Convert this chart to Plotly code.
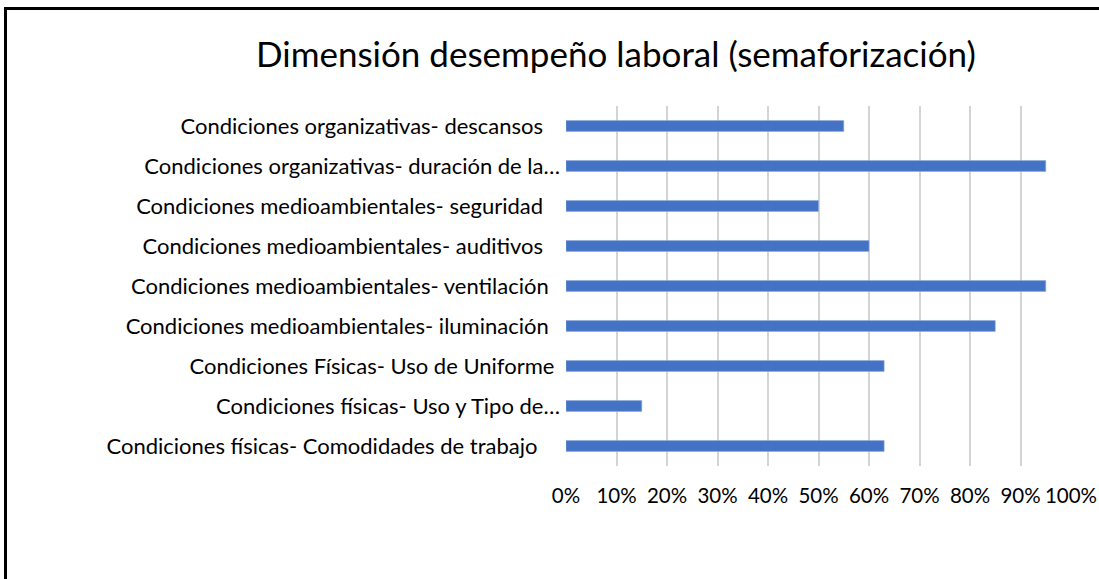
import plotly.graph_objects as go

categories = [
    "Condiciones físicas- Comodidades de trabajo",
    "Condiciones físicas- Uso y Tipo de…",
    "Condiciones Físicas- Uso de Uniforme",
    "Condiciones medioambientales- iluminación",
    "Condiciones medioambientales- ventilación",
    "Condiciones medioambientales- auditivos",
    "Condiciones medioambientales- seguridad",
    "Condiciones organizativas- duración de la…",
    "Condiciones organizativas- descansos",
]
values = [0.63, 0.15, 0.63, 0.85, 0.95, 0.60, 0.50, 0.95, 0.55]
label_pad = [4, 0, 1, 2, 2, 3, 3, 0, 3]
x_ticks = [0, 0.1, 0.2, 0.3, 0.4, 0.5, 0.6, 0.7, 0.8, 0.9, 1.0]
x_tick_text = ["0%", "10%", "20%", "30%", "40%", "50%", "60%", "70%", "80%", "90%", "100%"]
title_text = "Dimensión desempeño laboral (semaforización)"

W, H = 1099, 579
L, R, T, B = 566, 28, 106, 113
FONT = "Lato"
LABEL_SIZE = 22

ticktext = [c + "\u00a0" * p for c, p in zip(categories, label_pad)]

fig = go.Figure(go.Bar(
    y=categories, x=values, orientation="h",
    marker=dict(color="#4472C4", line=dict(color="#8FAADC", width=0.6)),
    width=0.27, hoverinfo="skip",
))

pw = W - L - R
ph = H - T - B

def px2x(px):
    return (px - L) / pw

def py2y(py):
    return (H - B - py) / ph

fig.update_layout(
    width=W, height=H,
    margin=dict(l=L, r=R, t=T, b=B, autoexpand=False),
    paper_bgcolor="white", plot_bgcolor="white",
    font=dict(family=FONT, color="#000000"),
    showlegend=False,
    xaxis=dict(
        range=[0, 1], tickvals=x_ticks, ticktext=x_tick_text,
        showgrid=True, gridcolor="#D4D4D4", gridwidth=2,
        zeroline=False, showline=False, ticks="",
        tickangle=0, automargin=False,
        tickfont=dict(family=FONT, size=20.5, color="#000000"),
        ticklabelstandoff=15, fixedrange=True,
    ),
    yaxis=dict(
        categoryorder="array", categoryarray=categories,
        tickvals=categories, ticktext=ticktext,
        showgrid=False, zeroline=False, showline=False, ticks="",
        automargin=False,
        tickfont=dict(family=FONT, size=LABEL_SIZE, color="#000000"),
        ticklabelstandoff=5, fixedrange=True,
    ),
    shapes=[dict(
        type="rect", xref="paper", yref="paper",
        x0=px2x(5.5), x1=px2x(1150), y0=py2y(8.5), y1=py2y(640),
        line=dict(color="black", width=3), fillcolor="rgba(0,0,0,0)", layer="above",
    )],
    annotations=[dict(
        text=title_text, xref="paper", yref="paper",
        x=px2x(616), y=py2y(53), xanchor="center", yanchor="middle",
        showarrow=False, font=dict(family=FONT, size=35, color="#000000"),
    )],
)

fig.write_html(
    "out.html",
    config={"displayModeBar": False},
    post_script="document.body.style.margin='0';document.body.style.overflow='hidden';",
)
